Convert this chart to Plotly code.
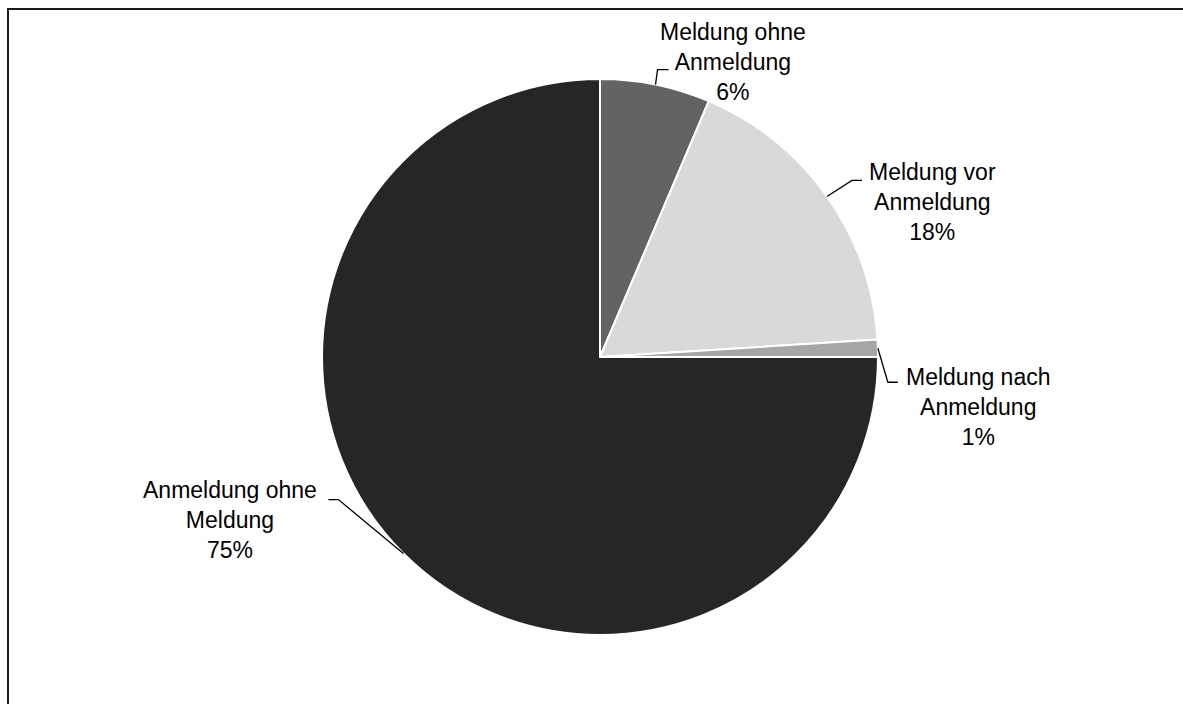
import math
import plotly.graph_objects as go

# ---- data ----
categories = ["Meldung ohne<br>Anmeldung", "Meldung vor<br>Anmeldung",
              "Meldung nach<br>Anmeldung", "Anmeldung ohne<br>Meldung"]
values = [6.4, 17.6, 1.0, 75.0]
colors = ["#636363", "#d9d9d9", "#a6a6a6", "#262626"]

# ---- layout constants (pixels) ----
W, H = 1183, 704
CX, CY, R = 600, 357, 278
FONT = "Liberation Sans, Arial, sans-serif"

# label placement relative to the slice's mid-angle edge point:
# (elbow dx, elbow dy, end dx, end dy, text dx, text dy)
label_offsets = [
    (2, -15, 13, -15, 77, -23),
    (25, -16, 35, -16, 106, 6),
    (10, 34, 20, 34, 101, 59),
    (-65, -54, -75, -54, -173, -34),
]


def px(x):
    return x / W


def py(y):
    return 1 - y / H


fig = go.Figure()
fig.add_trace(go.Pie(
    labels=categories,
    values=values,
    sort=False,
    direction="clockwise",
    rotation=0,
    marker=dict(colors=colors, line=dict(color="white", width=2)),
    textinfo="none",
    hoverinfo="label+percent",
    showlegend=False,
    domain=dict(x=[px(CX - R), px(CX + R)], y=[py(CY + R), py(CY - R)]),
))

total = sum(values)
cum = 0.0
annotations = []
shapes = []
for cat, v, off in zip(categories, values, label_offsets):
    mid = (cum + v / 2) / total * 2 * math.pi
    cum += v
    ax = CX + R * math.sin(mid)
    ay = CY - R * math.cos(mid)
    ex, ey, nx, ny, tx, ty = off
    path = "M {} {} L {} {} L {} {}".format(
        px(ax), py(ay), px(ax + ex), py(ay + ey), px(ax + nx), py(ay + ny))
    shapes.append(dict(type="path", xref="paper", yref="paper", path=path,
                       line=dict(color="black", width=1.3), layer="above"))
    pct = round(v / total * 100)
    annotations.append(dict(
        x=px(ax + tx), y=py(ay + ty), xref="paper", yref="paper",
        text="{}<br>{}%".format(cat, pct), showarrow=False,
        xanchor="center", yanchor="middle", align="center",
        font=dict(family=FONT, size=23, color="black")))

# outer chart frame (right and bottom edges lie outside the view)
shapes.append(dict(type="rect", xref="paper", yref="paper",
                   x0=px(8), y0=py(720), x1=px(1200), y1=py(9),
                   line=dict(color="#1a1a1a", width=2), layer="below"))

fig.update_layout(
    width=W, height=H,
    margin=dict(l=0, r=0, t=0, b=0),
    paper_bgcolor="white", plot_bgcolor="white",
    annotations=annotations, shapes=shapes,
    font=dict(family=FONT),
)
fig.write_html("out.html",
               config={"displayModeBar": False},
               post_script="document.body.style.margin='0px';"
                           "document.body.style.overflow='hidden';")
